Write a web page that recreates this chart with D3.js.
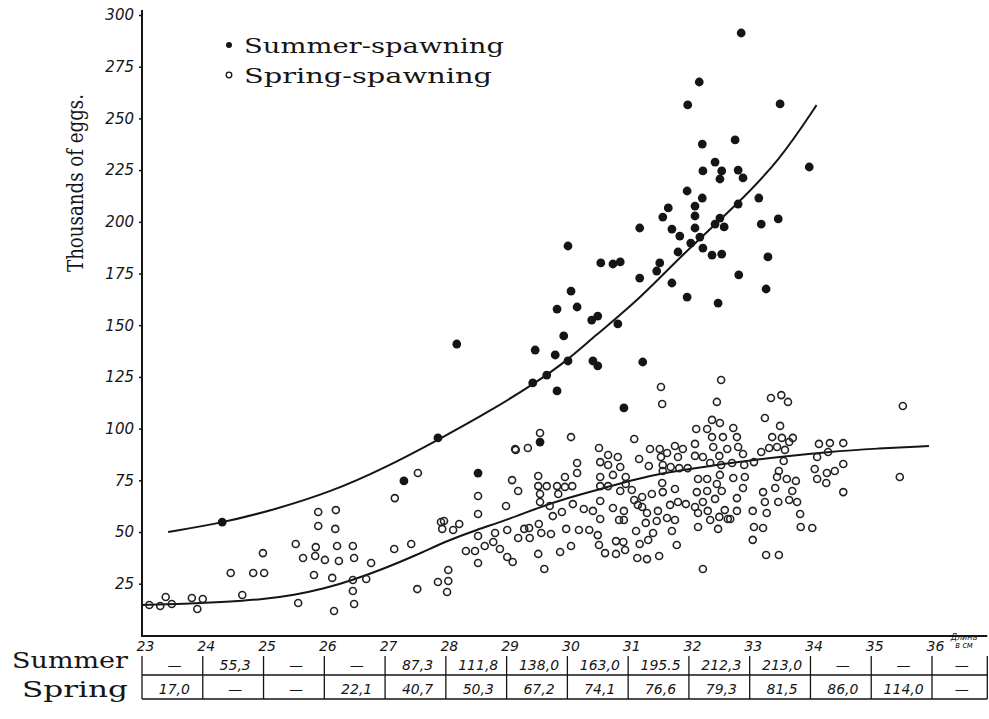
<!DOCTYPE html>
<html><head><meta charset="utf-8">
<script src="https://cdn.jsdelivr.net/npm/d3@7"></script>
<style>
body{margin:0;background:#fff;}
svg{display:block;}
</style></head>
<body>
<svg id="chart" width="989" height="719"></svg>
<script>
// ---------------- DATA ----------------
const xTicks = [23,24,25,26,27,28,29,30,31,32,33,34,35,36];
const yTicks = [25,50,75,100,125,150,175,200,225,250,275,300];
const yTickLabels = ["25","50","75","100","125","150","175","200","225","250","275","300"];
const rowNames = ["Summer","Spring"];
const summerMeans = ["—","55,3","—","—","87,3","111,8","138,0","163,0","195.5","212,3","213,0","—","—","—"];
const springMeans = ["17,0","—","—","22,1","40,7","50,3","67,2","74,1","76,6","79,3","81,5","86,0","114,0","—"];
const legendLabels = ["Summer-spawning","Spring-spawning"];
const yTitle = "Thousands of eggs.";
const unitLabel = ["Длина","в см"];

// fitted curves (length cm, thousands of eggs)
const summerCurve = [[23.43,50],[24.32,54.4],[25.2,61],[26.1,69.3],[27.0,81],[27.9,95],[28.7,108],[29.47,122],[30.0,133],[30.42,144],[31.2,163],[31.85,183],[32.8,208.6],[33.5,230],[34.1,256.4]];
const springCurve = [[23.0,14.7],[23.7,15.2],[24.4,16.2],[25.0,17.5],[25.5,19.5],[26.0,22.6],[26.47,26.8],[27.0,32.5],[27.52,38.9],[28.04,46],[28.5,51],[29.02,56],[29.5,61.5],[30.0,66.5],[30.67,71.8],[31.1,75.3],[31.57,78.5],[32.13,81],[32.68,83.4],[33.5,86.4],[34.27,88.7],[35.1,90.4],[35.95,91.6]];

// individual fish: [length cm, thousands of eggs]
const summerPoints = [
[24.32,54.8],[27.31,74.7],[27.87,95.5],[28.53,78.5],[28.18,140.9],[30.01,188.3],[30.55,180.1],[30.75,179.6],
[30.87,180.6],[31.19,197.0],[31.19,172.8],[30.06,166.5],[29.83,157.8],[30.16,158.8],[30.40,152.5],[30.50,154.4],
[30.83,150.6],[29.94,144.8],[29.47,138.0],[29.80,135.6],[30.01,132.7],[30.42,132.7],[30.50,130.3],[31.24,132.2],
[29.43,122.1],[29.66,125.9],[29.83,118.2],[30.93,110.0],[29.55,93.5],[32.86,291.3],[32.17,267.6],[31.98,256.5],
[33.50,257.0],[32.22,237.6],[32.76,239.6],[32.43,228.9],[32.23,224.6],[32.54,224.6],[32.51,220.7],[32.81,225.0],
[32.89,221.2],[33.98,226.5],[31.97,214.9],[32.22,211.5],[32.10,207.6],[32.10,202.8],[31.66,206.7],[31.57,202.3],
[32.81,208.6],[33.15,211.5],[31.72,196.5],[31.85,193.1],[32.10,197.0],[32.18,192.6],[32.03,189.7],[32.23,187.3],
[32.38,183.9],[32.54,184.4],[32.43,198.9],[32.58,197.5],[32.51,201.8],[33.47,201.4],[33.19,198.9],[31.82,185.4],
[33.30,183.0],[31.47,176.2],[31.52,180.1],[31.72,170.4],[31.97,163.6],[32.48,160.7],[32.82,174.3],[33.27,167.5]
];
const springPoints = [
[23.12,14.7],[23.30,14.2],[23.39,18.6],[23.49,15.2],[23.82,18.1],[23.91,12.8],[24.00,17.6],[24.46,30.2],
[24.65,19.5],[24.83,30.2],[25.01,30.2],[24.99,39.8],[25.57,15.7],[25.53,44.2],[25.65,37.4],[25.85,38.4],
[25.86,42.7],[25.90,52.9],[25.90,59.7],[25.83,29.2],[26.01,36.5],[26.13,27.8],[26.16,11.8],[26.18,51.5],
[26.19,60.6],[26.21,43.2],[26.24,36.0],[26.47,43.2],[26.49,37.4],[26.47,26.8],[26.47,21.5],[26.49,15.2],
[26.69,27.3],[26.77,35.0],[27.15,41.8],[27.16,66.4],[27.43,44.2],[27.53,22.4],[27.54,78.5],[27.87,25.8],
[27.92,54.8],[27.97,55.3],[27.94,51.5],[28.04,31.6],[28.04,26.3],[28.02,21.0],[28.12,51.0],[28.22,53.9],
[28.33,40.8],[28.48,40.8],[28.53,35.0],[28.53,48.1],[28.53,58.7],[28.53,67.4],[28.64,43.2],[28.78,45.2],
[28.81,49.5],[28.89,41.8],[28.99,62.6],[29.01,37.9],[29.10,35.5],[29.09,75.1],[29.15,89.7],[29.19,69.8],
[29.01,51.0],[29.19,47.1],
[31.54,120.1],[31.56,111.9],[32.53,123.5],[32.46,112.9],[29.14,90.1],[29.35,90.6],[29.52,77.1],[29.52,72.2],
[29.66,72.2],[29.83,72.2],[29.96,71.8],[29.96,76.6],[30.08,72.2],[29.55,68.4],[29.55,64.5],[29.85,68.4],
[30.16,83.4],[30.16,78.5],[29.55,97.9],[30.06,95.9],[29.71,62.6],[29.76,57.7],[29.91,59.7],[29.29,51.5],
[29.37,51.9],[29.38,47.1],[29.53,53.9],[29.57,49.5],[29.73,49.0],[29.52,39.4],[29.62,32.1],[29.88,40.3],
[30.06,43.2],[29.98,51.5],[30.19,51.0],[30.36,51.0],[30.50,48.5],[30.52,43.7],[30.62,39.8],[30.80,39.4],
[30.80,45.6],[30.92,45.2],[30.95,41.3],[30.27,61.1],[30.42,60.2],[30.54,65.0],[30.54,56.3],[30.75,61.6],
[30.85,55.8],[30.93,60.2],[30.93,55.8],[30.09,63.5],[30.52,90.6],[30.67,87.2],[30.83,86.3],[30.54,83.8],
[30.67,82.4],[30.87,81.4],[30.54,76.6],[30.75,77.6],[30.96,76.6],[30.54,72.2],[30.67,72.2],[30.87,69.8],
[30.96,73.2],[31.06,70.3],[31.10,65.5],[31.23,66.9],[31.16,63.1],[31.23,62.1],[31.10,95.0],[31.18,85.3],
[31.34,81.9],[31.36,90.1],[31.52,90.1],[31.54,86.3],[31.57,82.4],[31.57,79.5],[31.31,59.2],[31.49,60.2],
[31.47,55.3],[31.64,56.8],[31.77,55.8],[31.29,54.4],[31.41,49.5],[31.33,46.1],[31.13,50.5],[31.19,44.2],
[31.15,37.4],[31.31,36.9],[31.51,38.4],[31.72,50.5],[31.80,43.7],[31.39,68.4],[31.57,69.3],[31.77,70.8],
[31.69,63.1],[31.82,64.5],[31.95,63.5],[31.56,73.7],[31.77,91.6],[31.90,90.1],[31.82,86.3],[31.64,88.2],
[31.70,81.4],[31.84,80.9],[31.98,80.9],[32.10,92.6],[32.10,86.8],[32.23,86.3],[32.12,99.8],[32.30,99.8],
[32.38,104.2],[32.51,102.7],[32.38,95.9],[32.56,95.9],[32.40,91.1],[32.63,90.1],[32.50,86.8],[32.35,83.4],
[32.53,82.4],[32.73,100.3],[32.79,95.9],[32.81,91.1],[32.89,87.7],[32.91,82.4],[32.71,83.4],[32.15,75.6],
[32.30,75.6],[32.13,69.3],[32.30,69.8],[32.46,73.2],[32.54,69.8],[32.23,64.5],[32.43,66.0],[32.51,77.6],
[32.73,76.1],[32.92,76.6],[32.89,71.3],[32.79,66.4],[32.79,60.2],[32.10,62.1],[32.15,59.2],[32.31,60.2],
[32.35,55.8],[32.50,57.3],[32.59,60.6],[32.64,56.3],[32.48,51.5],[32.15,52.4],[32.23,32.1],
[33.35,114.8],[33.52,116.2],[33.63,112.9],[33.25,105.1],[33.50,101.3],[35.52,110.9],[35.47,76.6],[33.37,95.9],
[33.53,95.5],[33.65,93.5],[33.71,95.5],[33.32,90.6],[33.45,91.1],[33.58,89.7],[33.19,88.7],[33.56,84.3],
[34.14,92.6],[34.32,93.0],[34.54,93.0],[34.29,88.7],[34.11,86.3],[33.07,83.8],[34.07,80.5],[34.27,78.5],
[34.40,79.5],[34.54,82.9],[34.11,75.6],[34.26,73.7],[34.54,69.3],[33.48,79.5],[33.45,76.6],[33.61,75.6],
[33.76,74.7],[33.42,71.3],[33.22,69.3],[33.70,69.8],[33.65,65.5],[33.78,64.5],[33.25,64.5],[33.47,64.5],
[33.05,60.2],[33.28,59.2],[33.83,58.7],[32.68,56.3],[33.07,52.4],[33.22,51.9],[33.84,52.4],[34.03,51.9],
[33.27,38.9],[33.48,38.9],[33.05,46.2]
];

// ---------------- DRAW ----------------
const svg = d3.select("#chart");
const ink = "#151515";
const xs = d3.scaleLinear().domain([23, 36]).range([142, 932]);
const ys = d3.scaleLinear().domain([0, 300]).range([635.4, 15]);
const tableRight = xs(36.91);

// axes lines
svg.append("line").attr("x1", xs(23)).attr("x2", xs(23)).attr("y1", 10).attr("y2", 637)
  .attr("stroke", ink).attr("stroke-width", 2);
svg.append("line").attr("x1", xs(23) - 1).attr("x2", tableRight).attr("y1", 636).attr("y2", 636)
  .attr("stroke", ink).attr("stroke-width", 2);

// y axis ticks & labels
const yAxis = d3.axisLeft(ys).tickValues(yTicks).tickSize(3).tickPadding(5)
  .tickFormat((d, i) => yTickLabels[i]);
const gy = svg.append("g").attr("transform", `translate(${xs(23)},0)`).call(yAxis);
gy.select(".domain").remove();
gy.selectAll("line").attr("stroke", ink).attr("stroke-width", 1.5);
gy.selectAll("text").attr("fill", ink).style("font-family", "'DejaVu Sans', sans-serif")
  .style("font-style", "italic").style("font-size", "15px");

// x axis labels
const xAxis = d3.axisBottom(xs).tickValues(xTicks).tickSize(0).tickPadding(5).tickFormat(d3.format("d"));
const gx = svg.append("g").attr("transform", "translate(0,636)").call(xAxis);
gx.select(".domain").remove();
gx.selectAll("text").attr("fill", ink).style("font-family", "'DejaVu Sans', sans-serif")
  .style("font-style", "italic").style("font-size", "14px").attr("dx", 3);

// unit label
svg.append("text").attr("x", xs(36) + 32).attr("y", 640).attr("text-anchor", "middle")
  .style("font-family", "'DejaVu Sans', sans-serif").style("font-style", "italic").style("font-size", "8px")
  .attr("fill", ink).text(unitLabel[0]);
svg.append("text").attr("x", xs(36) + 32).attr("y", 648).attr("text-anchor", "middle")
  .style("font-family", "'DejaVu Sans', sans-serif").style("font-style", "italic").style("font-size", "8px")
  .attr("fill", ink).text(unitLabel[1]);

// y title
svg.append("text").attr("transform", "translate(83,183) rotate(-90)").attr("text-anchor", "middle")
  .style("font-family", "'DejaVu Serif', serif").style("font-size", "23px").attr("fill", ink)
  .attr("textLength", 178).attr("lengthAdjust", "spacingAndGlyphs").text(yTitle);

// curves
const line = d3.line().x(d => xs(d[0])).y(d => ys(d[1])).curve(d3.curveBasis);
svg.append("path").attr("d", line(summerCurve)).attr("fill", "none").attr("stroke", ink).attr("stroke-width", 2);
svg.append("path").attr("d", line(springCurve)).attr("fill", "none").attr("stroke", ink).attr("stroke-width", 2);

// points
svg.append("g").selectAll("circle").data(springPoints).join("circle")
  .attr("cx", d => xs(d[0])).attr("cy", d => ys(d[1])).attr("r", 3.5)
  .attr("fill", "none").attr("stroke", "#222").attr("stroke-width", 1.6);
svg.append("g").selectAll("circle").data(summerPoints).join("circle")
  .attr("cx", d => xs(d[0])).attr("cy", d => ys(d[1])).attr("r", 4.4)
  .attr("fill", ink);

// legend
svg.append("circle").attr("cx", 229).attr("cy", 45).attr("r", 3).attr("fill", ink);
svg.append("circle").attr("cx", 229).attr("cy", 75).attr("r", 2.8).attr("fill", "none").attr("stroke", ink).attr("stroke-width", 1.3);
legendLabels.forEach((t, i) => {
  svg.append("text").attr("x", 244).attr("y", 53 + i * 30)
    .style("font-family", "'DejaVu Serif', serif").style("font-size", "21px").attr("fill", ink)
    .attr("textLength", i === 0 ? 260 : 248).attr("lengthAdjust", "spacingAndGlyphs").text(t);
});

// table
const edges = xTicks.map(v => xs(v)).concat([tableRight]);
const tTop = 656, tMid = 675, tBot = 699;
const tg = svg.append("g");
edges.forEach(ex => {
  tg.append("line").attr("x1", ex).attr("x2", ex).attr("y1", tTop).attr("y2", tBot)
    .attr("stroke", ink).attr("stroke-width", 1.3);
});
[tMid, tBot].forEach(yy => {
  tg.append("line").attr("x1", edges[0]).attr("x2", tableRight).attr("y1", yy).attr("y2", yy)
    .attr("stroke", ink).attr("stroke-width", 1.3);
});
[summerMeans, springMeans].forEach((row, r) => {
  tg.selectAll(null).data(row).join("text")
    .attr("x", (d, i) => (edges[i] + edges[i + 1]) / 2 + 2)
    .attr("y", r === 0 ? 670 : 694)
    .attr("text-anchor", "middle")
    .style("font-family", "'DejaVu Sans', sans-serif").style("font-style", "italic")
    .style("font-size", "14px").attr("fill", ink)
    .text(d => d);
});
rowNames.forEach((n, r) => {
  svg.append("text").attr("x", r === 0 ? 12 : 22).attr("y", r === 0 ? 668 : 697)
    .style("font-family", "'DejaVu Serif', serif").style("font-size", "22px").attr("fill", ink)
    .attr("textLength", r === 0 ? 116 : 106).attr("lengthAdjust", "spacingAndGlyphs").text(n);
});
</script>
</body></html>
